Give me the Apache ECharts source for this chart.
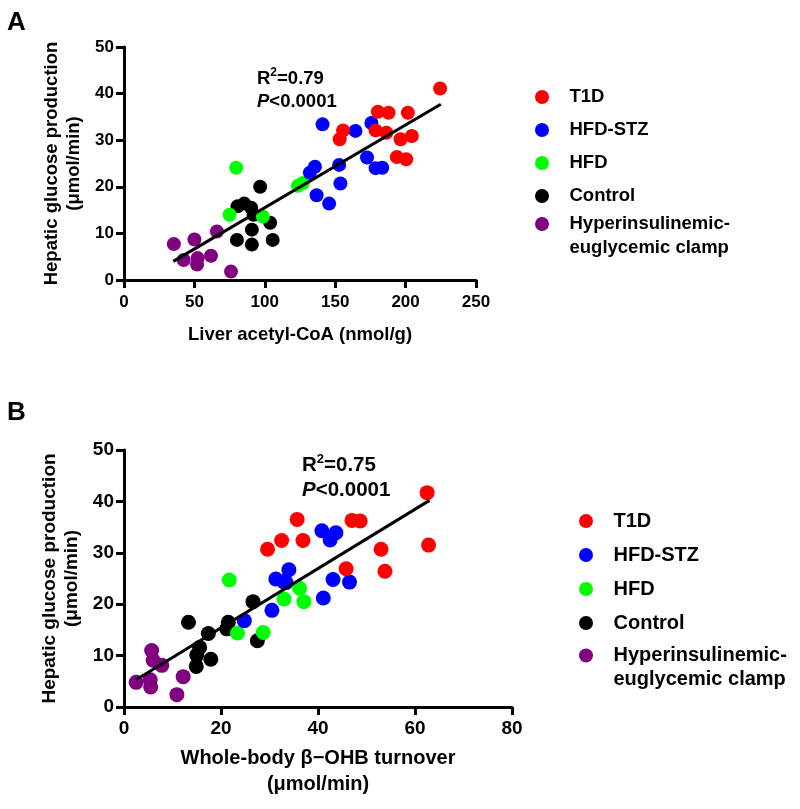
<!DOCTYPE html>
<html><head><meta charset="utf-8">
<script src="https://cdn.jsdelivr.net/npm/echarts@6/dist/echarts.min.js"></script>
<style>html,body{margin:0;padding:0;background:#fff}#c{width:800px;height:809px}</style>
</head><body><div id="c"></div><script>
const FONT = "'Liberation Sans', Arial, Helvetica, sans-serif";

// groups and colours
const groups = ['T1D', 'HFD-STZ', 'HFD', 'Control', 'Hyperinsulinemic-euglycemic clamp'];
const groupColors = ['#FF0000', '#0000FF', '#00FF00', '#000000', '#800080'];

// axis ticks
const xTicksA = [0, 50, 100, 150, 200, 250];
const xTicksB = [0, 20, 40, 60, 80];
const yTicks = [0, 10, 20, 30, 40, 50];

// Panel A: liver acetyl-CoA (nmol/g) vs HGP (umol/min)
const t1dA = [[224.5,41.1],[180.3,36.1],[187.9,35.9],[201.6,35.9],[155.6,32.1],[153.2,30.2],[178.7,32.1],[186.3,31.6],[196.4,30.2],[204.4,30.9],[193.8,26.4],[200.4,25.9]];
const hfdStzA = [[141,33.4],[164.4,32],[175.7,33.7],[132,23],[135.6,24.3],[152.8,24.7],[153.7,20.7],[136.8,18.2],[145.7,16.4],[172.6,26.3],[178.7,24],[183.4,24.1]];
const hfdA = [[79.7,24.1],[75,14],[98.6,13.6],[123.5,20.2],[127,20.8]];
const controlA = [[96.7,20],[80.6,15.8],[85.4,16.4],[90.3,15.5],[92,14],[103.8,12.3],[90.8,10.8],[80.2,8.6],[90.8,7.6],[105.6,8.6]];
const clampA = [[35.4,7.7],[42.4,4.3],[50,8.7],[52.3,4.7],[51.9,3.3],[61.8,5.2],[66,10.4],[76,1.8]];
const fitA = [[35,4.0],[225,37.7]];

// Panel B: whole-body beta-OHB turnover (umol/min) vs HGP (umol/min)
const t1dB = [[62.5,41.7],[35.7,36.5],[47,36.3],[48.7,36.2],[32.5,32.4],[36.9,32.4],[29.6,30.7],[53,30.7],[62.8,31.5],[45.8,26.9],[53.8,26.4]];
const hfdStzB = [[24.8,16.8],[30.5,18.8],[31.3,24.9],[32.9,24.4],[34,26.7],[40.8,34.3],[43.7,33.9],[42.5,32.5],[43.1,24.8],[46.5,24.3],[41.1,21.2],[33.4,24.2]];
const hfdB = [[21.7,24.7],[23.4,14.4],[28.7,14.5],[33,21],[36.2,23.1],[37.1,20.5]];
const controlB = [[13.3,16.5],[17.4,14.3],[15.6,11.6],[15,10.1],[17.9,9.3],[14.9,7.9],[21.5,16.5],[21.2,15.2],[26.6,20.5],[27.5,12.9]];
const clampB = [[2.5,4.8],[5.5,3.9],[5.7,11],[6.0,9.1],[7.8,8.1],[5.4,5.3],[12.2,5.9],[10.9,2.4]];
const fitB = [[2.5,5.3],[63,40.2]];

const statsA = ['0.79', '<0.0001'];
const statsB = ['0.75', '<0.0001'];

const panelData = [
  [t1dA, hfdStzA, hfdA, controlA, clampA],
  [t1dB, hfdStzB, hfdB, controlB, clampB]
];
const fits = [fitA, fitB];

function xAxis(idx, ticks, name, fs, nfs, gap, margin) {
  return {
    gridIndex: idx, type: 'value', min: ticks[0], max: ticks[ticks.length - 1], interval: ticks[1] - ticks[0],
    name: name, nameLocation: 'middle', nameGap: gap,
    nameTextStyle: {fontSize: nfs, fontWeight: 'bold', fontFamily: FONT, color: '#000', lineHeight: nfs * 1.3},
    axisLine: {onZero: false, lineStyle: {color: '#000', width: 3}},
    axisTick: {show: true, length: 8, lineStyle: {color: '#000', width: 3}},
    axisLabel: {fontSize: fs, fontWeight: 'bold', fontFamily: FONT, color: '#000', margin: margin},
    splitLine: {show: false}
  };
}
function yAxis(idx, ticks, name, fs, nfs, gap) {
  return {
    gridIndex: idx, type: 'value', min: ticks[0], max: ticks[ticks.length - 1], interval: ticks[1] - ticks[0],
    name: name, nameLocation: 'middle', nameRotate: 90, nameGap: gap,
    nameTextStyle: {fontSize: nfs, fontWeight: 'bold', fontFamily: FONT, color: '#000', lineHeight: 22},
    axisLine: {onZero: false, lineStyle: {color: '#000', width: 3}},
    axisTick: {show: true, length: 8, lineStyle: {color: '#000', width: 3}},
    axisLabel: {fontSize: fs, fontWeight: 'bold', fontFamily: FONT, color: '#000', margin: 10},
    splitLine: {show: false}
  };
}

const series = [];
[0, 1].forEach(function (p) {
  for (let g = groups.length - 1; g >= 0; g--) {
    series.push({
      type: 'scatter', name: groups[g], xAxisIndex: p, yAxisIndex: p,
      data: panelData[p][g], symbol: 'circle', symbolSize: p === 0 ? 14 : 15,
      itemStyle: {color: groupColors[g], opacity: 1}, z: 2
    });
  }
  series.push({
    type: 'line', name: 'fit' + p, xAxisIndex: p, yAxisIndex: p, data: fits[p],
    showSymbol: false, symbol: 'none', lineStyle: {color: '#000', width: 3}, z: 5, silent: true
  });
});

function mainLegend(left, top, fs, gap) {
  return {
    data: groups.slice(0, 4), left: left, top: top, orient: 'vertical', icon: 'circle',
    itemWidth: 45, itemHeight: 14, itemGap: gap, padding: 0, selectedMode: false,
    textStyle: {fontSize: fs, fontWeight: 'bold', fontFamily: FONT, color: '#000', lineHeight: 22}
  };
}
function clampLegend(left, top, fs, lh) {
  const tok = {fontSize: fs, fontWeight: 'bold', fontFamily: FONT, color: '#000'};
  return {
    data: [groups[4]], left: left, top: top, orient: 'vertical', icon: 'circle',
    itemWidth: 45, itemHeight: 14, padding: 0, selectedMode: false,
    formatter: function () { return '{l1|Hyperinsulinemic-}\n{l2|euglycemic clamp}'; },
    textStyle: {fontSize: fs, fontWeight: 'bold', fontFamily: FONT, color: '#000',
      rich: {l1: Object.assign({lineHeight: lh * 2}, tok), l2: Object.assign({lineHeight: 1}, tok)}}
  };
}

function statText(left, top, vals, fs, lh) {
  const base = {fontSize: fs, fontWeight: 'bold', fontFamily: FONT, fill: '#000', lineHeight: lh};
  return {
    type: 'text', left: left, top: top,
    style: {
      text: '{n|R}{s|2}{n|=' + vals[0] + '}\n{i|P}{n|' + vals[1] + '}',
      rich: {
        n: base,
        s: Object.assign({}, base, {fontSize: Math.round(fs * 0.65), verticalAlign: 'top'}),
        i: Object.assign({}, base, {fontStyle: 'italic'})
      }
    }
  };
}

const option = {
  animation: false,
  backgroundColor: '#fff',
  grid: [
    {left: 124, top: 47, width: 352, height: 233},
    {left: 124, top: 450, width: 388, height: 257}
  ],
  xAxis: [
    xAxis(0, xTicksA, 'Liver acetyl-CoA (nmol/g)', 17, 18.5, 43, 14),
    xAxis(1, xTicksB, 'Whole-body \u03B2\u2212OHB turnover\n(\u03BCmol/min)', 19, 20, 38, 12)
  ],
  yAxis: [
    yAxis(0, yTicks, 'Hepatic glucose production\n(\u03BCmol/min)', 17, 18.5, 39),
    yAxis(1, yTicks, 'Hepatic glucose production\n(\u03BCmol/min)', 19, 19, 41)
  ],
  legend: [
    mainLegend(535, 86, 18.5, 11),
    clampLegend(535, 214, 18.5, 24),
    mainLegend(579, 510, 20, 12),
    clampLegend(579, 645, 20, 24)
  ],
  graphic: [
    {type: 'text', left: 7, top: 10, style: {text: 'A', fontSize: 26, fontWeight: 'bold', fontFamily: FONT, fill: '#000'}},
    {type: 'text', left: 7, top: 400, style: {text: 'B', fontSize: 26, fontWeight: 'bold', fontFamily: FONT, fill: '#000'}},
    statText(257, 67, statsA, 18.5, 23),
    statText(302, 453, statsB, 20.5, 25)
  ],
  series: series
};

const chart = echarts.init(document.getElementById('c'), null, {renderer: 'canvas'});
chart.setOption(option);
</script></body></html>
